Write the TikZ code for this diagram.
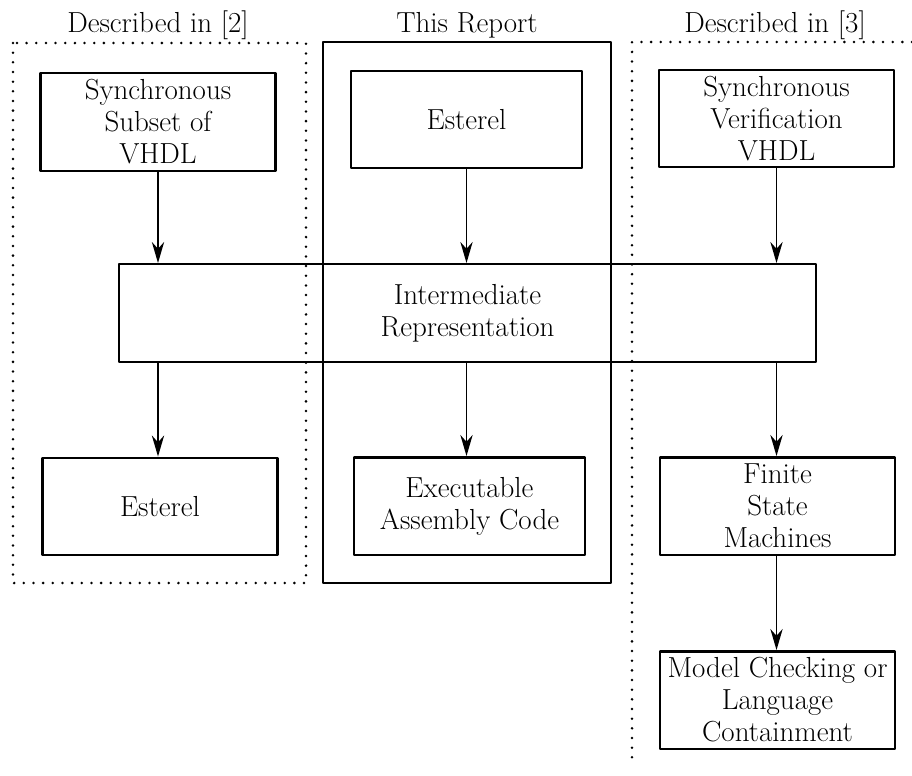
\documentclass[tikz,border=0pt]{standalone}
\usetikzlibrary{arrows.meta}
\begin{document}
\begin{tikzpicture}[x=0.02cm,y=-0.02cm,>={Stealth[length=12pt,width=7pt]},line join=round,
	font=\fontsize{16.5}{18.2}\selectfont,
	blk/.style={draw,line width=1.4pt,align=center,minimum width=4.7cm,minimum height=1.95cm,inner sep=1pt},
	grp/.style={line width=1.6pt,dash pattern=on 0pt off 5.5pt,line cap=round}]
	\useasboundingbox (0,0) rectangle (912,775);
	% titles of the three parts
	\node (t2) at (158,25) {Described in [2]};
	\node (tr) at (467,25) {This Report};
	\node (t3) at (775,25) {Described in [3]};
	% frames
	\draw[grp] (13,43) rectangle (306,583);
	\draw[line width=1.4pt] (323,42) rectangle (611,583);
	\draw[grp] (912,42) -- (632,42) -- (632,765);
	% boxes
	\node[blk] (vhdl) at (158,122) {Synchronous\\Subset of\\VHDL};
	\node[blk,minimum width=4.62cm] (est) at (466.5,119.5) {Esterel};
	\node[blk] (svhdl) at (776.5,118.5) {Synchronous\\Verification\\VHDL};
	\node[blk,minimum width=13.94cm] (ir) at (467.5,313) {Intermediate\\Representation};
	\node[blk] (esto) at (160,506.5) {Esterel};
	\node[blk,minimum width=4.62cm] (asm) at (469.5,506) {Executable\\Assembly Code};
	\node[blk] (fsm) at (777.5,506) {Finite\\State\\Machines};
	\node[blk] (mc) at (777.5,700) {Model Checking or\\Language\\Containment};
	% arrows
	\draw[->,line width=.9pt] (vhdl.south) -- (vhdl.south |- ir.north);
	\draw[->,line width=.9pt] (est.south) -- (est.south |- ir.north);
	\draw[->,line width=.9pt] (svhdl.south) -- (svhdl.south |- ir.north);
	\draw[->,line width=.9pt] (ir.south -| vhdl.south) -- (esto.north -| vhdl.south);
	\draw[->,line width=.9pt] (ir.south -| est.south) -- (asm.north -| est.south);
	\draw[->,line width=.9pt] (ir.south -| svhdl.south) -- (fsm.north -| svhdl.south);
	\draw[->,line width=.9pt] (fsm.south -| svhdl.south) -- (mc.north -| svhdl.south);
\end{tikzpicture}
\end{document}
